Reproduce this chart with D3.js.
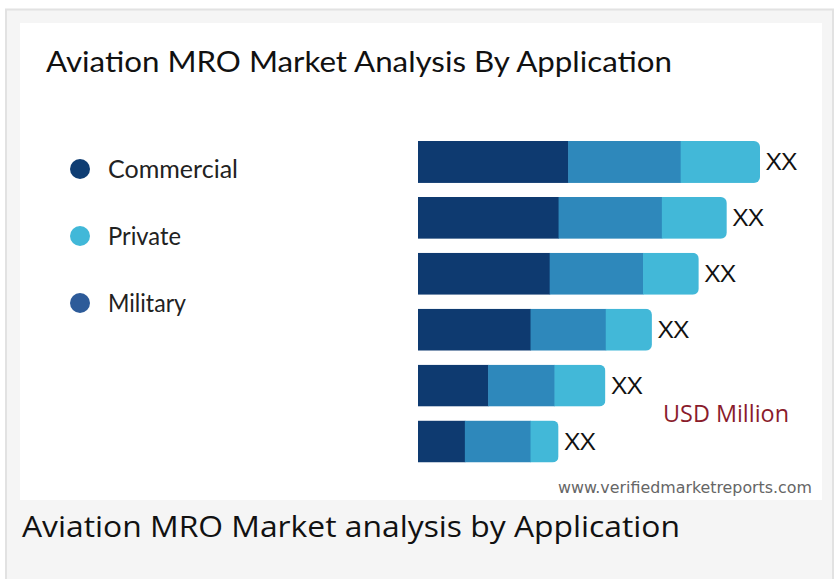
<!DOCTYPE html>
<html>
<head>
<meta charset="utf-8">
<script src="https://cdn.jsdelivr.net/npm/d3@7"></script>
<style>
  body { margin: 0; background: #fff; }
  svg { display: block; }
</style>
</head>
<body>
<svg id="chart" width="836" height="579"></svg>
<script>
// rows top to bottom, no axis labels in the picture
var categories = ["r1", "r2", "r3", "r4", "r5", "r6"];
var barLabels = ["XX", "XX", "XX", "XX", "XX", "XX"];

// stacked segments, left to right
var commercial = [43.9, 41.1, 38.5, 32.9, 20.5, 13.7];
var military   = [32.9, 30.2, 27.3, 22.0, 19.4, 19.2];
var priv       = [23.2, 19.0, 16.3, 13.5, 14.9, 8.2];

var legendNames = ["Commercial", "Private", "Military"];
var legendColors = ["#0f3d73", "#41b8d8", "#2d5b99"];
var legendWidths = [130, 73, 78];

var keys = ["commercial", "military", "private"];
var segColors = {commercial: "#0e3a70", military: "#2e88bb", "private": "#42b8d8"};

var rows = categories.map(function(c, i){
  return {cat: c, label: barLabels[i], commercial: commercial[i], military: military[i], "private": priv[i]};
});

var svg = d3.select("#chart");

// page frame
svg.append("rect").attr("x", 6).attr("y", 9.5).attr("width", 827).attr("height", 580)
   .attr("fill", "#f5f5f5").attr("stroke", "#e2e2e2").attr("stroke-width", 2);
svg.append("rect").attr("x", 20).attr("y", 23).attr("width", 802).attr("height", 477).attr("fill", "#fff");

// title
svg.append("text").attr("x", 46).attr("y", 72)
   .attr("font-family", "Lato, sans-serif").attr("font-size", 29).attr("fill", "#111")
   .attr("textLength", 626).attr("lengthAdjust", "spacingAndGlyphs")
   .text("Aviation MRO Market Analysis By Application");

// legend
var leg = svg.selectAll("g.leg").data(legendNames).enter().append("g")
   .attr("class", "leg")
   .attr("transform", function(d, i){ return "translate(80," + (169 + i * 67) + ")"; });
leg.append("circle").attr("r", 10).attr("fill", function(d, i){ return legendColors[i]; });
leg.append("text").attr("x", 28).attr("dy", "0.35em")
   .attr("font-family", "Lato, sans-serif").attr("font-size", 25).attr("fill", "#222")
   .attr("textLength", function(d, i){ return legendWidths[i]; }).attr("lengthAdjust", "spacingAndGlyphs")
   .text(function(d){ return d; });

var x = d3.scaleLinear().domain([0, 100]).range([418, 760]);
var y = d3.scaleBand().domain(categories).range([141, 462.5]).paddingInner(0.25).paddingOuter(0);

var stacked = d3.stack().keys(keys)(rows);
var totals = rows.map(function(r){ return r.commercial + r.military + r["private"]; });

// rounded right end: clip each row
var defs = svg.append("defs");
defs.selectAll("clipPath").data(categories).enter().append("clipPath")
   .attr("id", function(d, i){ return "clip" + i; })
   .append("rect")
   .attr("x", x(0) - 10)
   .attr("y", function(d){ return y(d); })
   .attr("width", function(d, i){ return x(totals[i]) - x(0) + 10; })
   .attr("height", y.bandwidth())
   .attr("rx", 6);

var rowG = svg.selectAll("g.row").data(categories).enter().append("g")
   .attr("class", "row")
   .attr("clip-path", function(d, i){ return "url(#clip" + i + ")"; });

rowG.selectAll("rect").data(function(d, i){
    return stacked.map(function(s){ return {key: s.key, v: s[i], cat: d}; });
  }).enter().append("rect")
   .attr("x", function(d){ return x(d.v[0]); })
   .attr("y", function(d){ return y(d.cat); })
   .attr("width", function(d){ return x(d.v[1]) - x(d.v[0]) + (d.key == "private" ? 0 : 0.5); })
   .attr("height", y.bandwidth())
   .attr("fill", function(d){ return segColors[d.key]; });

// value labels
svg.selectAll("text.val").data(rows).enter().append("text")
   .attr("class", "val")
   .attr("x", function(d, i){ return x(totals[i]) + 6; })
   .attr("y", function(d){ return y(d.cat) + y.bandwidth() / 2; })
   .attr("dy", "0.35em")
   .attr("font-family", "'Open Sans', sans-serif").attr("font-size", 24).attr("fill", "#111")
   .attr("textLength", 31).attr("lengthAdjust", "spacingAndGlyphs")
   .text(function(d){ return d.label; });

svg.append("text").attr("x", 663).attr("y", 422)
   .attr("font-family", "'Open Sans', sans-serif").attr("font-size", 23).attr("fill", "#8a1c2c")
   .attr("textLength", 126).attr("lengthAdjust", "spacingAndGlyphs")
   .text("USD Million");

svg.append("text").attr("x", 558).attr("y", 493)
   .attr("font-family", "'Liberation Sans Narrow', 'DejaVu Sans Condensed', sans-serif")
   .attr("font-size", 15).attr("fill", "#666")
   .attr("textLength", 254).attr("lengthAdjust", "spacingAndGlyphs")
   .text("www.verifiedmarketreports.com");

// caption under the image
svg.append("text").attr("x", 22).attr("y", 537)
   .attr("font-family", "'Open Sans', sans-serif").attr("font-size", 29).attr("fill", "#111")
   .attr("textLength", 658).attr("lengthAdjust", "spacingAndGlyphs")
   .text("Aviation MRO Market analysis by Application");
</script>
</body>
</html>
